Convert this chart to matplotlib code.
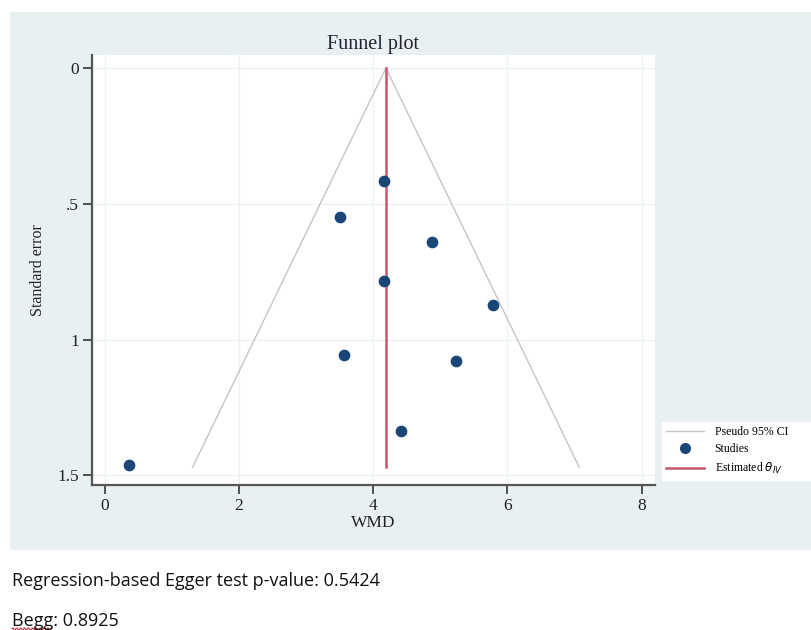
import numpy as np
import matplotlib.pyplot as plt
from matplotlib.patches import Rectangle
from matplotlib.lines import Line2D

# study estimates
wmd = [4.16, 3.51, 4.88, 4.16, 5.79, 3.57, 5.24, 4.42, 0.36]
se = [0.417, 0.55, 0.64, 0.783, 0.872, 1.057, 1.079, 1.337, 1.463]
theta_iv = 4.19
se_max = 1.47

xticks = [0, 2, 4, 6, 8]
yticks = [0, 0.5, 1, 1.5]
ytick_labels = ["0", ".5", "1", "1.5"]

egger_txt = "Regression-based Egger test p-value: 0.5424"
begg_txt = "Begg: 0.8925"

serif = "Liberation Serif"
panel_bg = "#e9f0f2"

fig = plt.figure(figsize=(8.12, 6.3), dpi=100, facecolor="white")

# light stata-style panel behind the graph
fig.patches.append(Rectangle((10 / 812, 1 - 550 / 630), 802 / 812, 538 / 630,
                             transform=fig.transFigure, facecolor=panel_bg,
                             edgecolor="none", zorder=-5))

ax = fig.add_axes([92 / 812, 1 - 485 / 630, 563 / 812, 430 / 630])
ax.set_facecolor("white")

# pseudo 95% CI funnel
se_line = np.array([0, se_max])
ax.plot(theta_iv - 1.96 * se_line, se_line, color="#c4c4c4", lw=1.0, zorder=2)
ax.plot(theta_iv + 1.96 * se_line, se_line, color="#c4c4c4", lw=1.0, zorder=2)

ax.plot([theta_iv, theta_iv], [0, se_max], color="#c8566e", lw=1.8, zorder=3)
ax.scatter(wmd, se, s=55, color="#1a4677", zorder=4)

ax.set_xlim(-0.19, 8.2)
ax.set_ylim(1.535, -0.048)
ax.set_xticks(xticks)
ax.set_yticks(yticks)
ax.set_yticklabels(ytick_labels)
ax.grid(True, color="#edf3f5", lw=1.0, zorder=0)
ax.set_axisbelow(True)

for s in ["top", "right"]:
    ax.spines[s].set_visible(False)
for s in ["left", "bottom"]:
    ax.spines[s].set_color("#555555")
    ax.spines[s].set_linewidth(1.6)

ax.tick_params(axis="both", length=6.5, width=1.3, color="#444444",
               labelsize=12.5, labelcolor="#222222")
for lab in ax.get_xticklabels() + ax.get_yticklabels():
    lab.set_fontfamily(serif)
ax.tick_params(axis="y", labelrotation=0, pad=3)
ax.tick_params(axis="x", pad=3)

ax.set_xlabel("WMD", fontsize=12.5, family=serif, color="#222222", labelpad=0.5)
ax.set_ylabel("Standard error", fontsize=11.5, family=serif, color="#222222", labelpad=8)
ax.set_title("Funnel plot", fontsize=14.5, family=serif, color="#222233", pad=4)

handles = [
    Line2D([], [], color="#c4c4c4", lw=1.0),
    Line2D([], [], color="#1a4677", marker="o", ls="none", ms=7),
    Line2D([], [], color="#c8566e", lw=1.8),
]
labels = ["Pseudo 95% CI", "Studies", r"Estimated $\theta_{IV}$"]
fig.legend(handles, labels, loc="lower left",
           bbox_to_anchor=(662 / 812, 1 - 480 / 630, 148 / 812, 52 / 630),
           mode="expand", frameon=True, fancybox=False, edgecolor="white",
           facecolor="white", framealpha=1, prop={"family": serif, "size": 8.5},
           handlelength=3.2, handletextpad=0.9, borderpad=0.35,
           labelspacing=0.45, borderaxespad=0)

fig.text(12 / 812, 1 - 581 / 630, egger_txt, fontsize=13, family="Open Sans",
         color="#111111", va="center")
fig.text(12 / 812, 1 - 621 / 630, begg_txt, fontsize=13, family="Open Sans",
         color="#111111", va="center")

# spell-check squiggle under "Begg"
sq_x = np.linspace(12, 52, 40)
sq_y = 629 - 1.2 * np.sin(sq_x * 1.6)
fig.add_artist(Line2D(sq_x / 812, 1 - sq_y / 630, color="#d03030", lw=0.8,
                      transform=fig.transFigure))

fig.savefig("out.png", dpi=100, facecolor="white")
